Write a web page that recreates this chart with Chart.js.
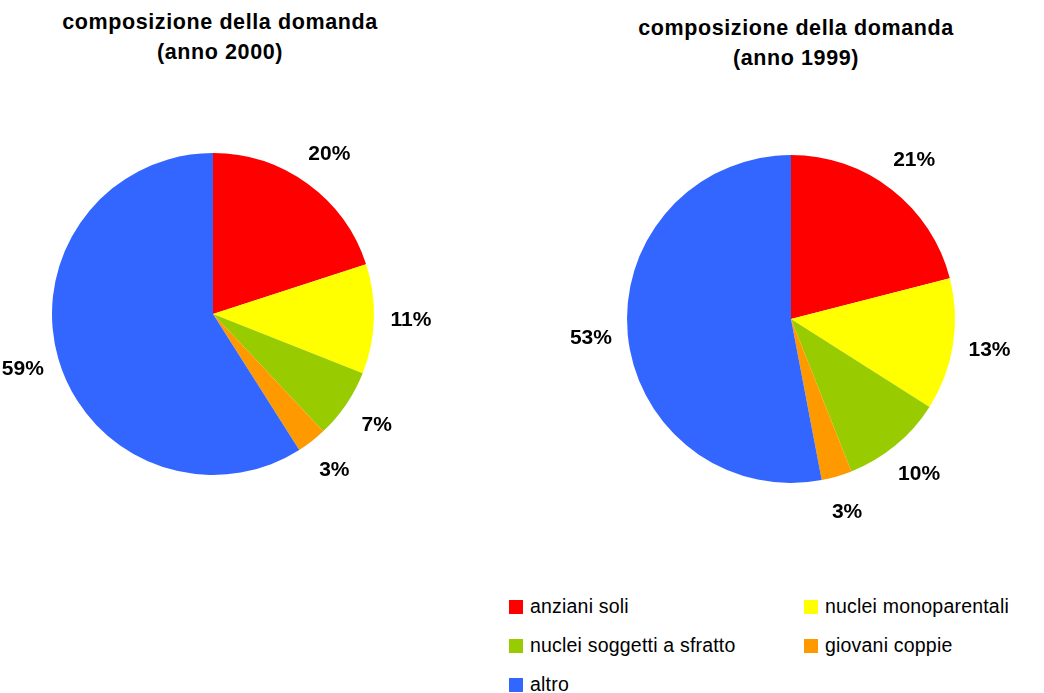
<!DOCTYPE html>
<html>
<head>
<meta charset="utf-8">
<script src="https://cdn.jsdelivr.net/npm/chart.js@4/dist/chart.umd.min.js"></script>
<style>
  body { margin: 0; background: #fff; width: 1044px; height: 693px; overflow: hidden; position: relative; font-family: "Liberation Sans", Arial, sans-serif; }
  .title { position: absolute; width: 400px; text-align: center; font-weight: bold; font-size: 21.5px; line-height: 30px; color: #000; letter-spacing: 0.6px; }
  .box { position: absolute; }
  #legend { position: absolute; left: 509px; top: 595px; width: 540px; font-size: 19.5px; color: #000; letter-spacing: 0.2px; }
  .item { position: absolute; white-space: nowrap; }
  .sw { display: inline-block; width: 14px; height: 14px; margin-right: 7px; vertical-align: -1px; }
</style>
</head>
<body>
<div class="title" style="left:20px; top:7px;">composizione della domanda<br>(anno 2000)</div>
<div class="title" style="left:596px; top:13px;">composizione della domanda<br>(anno 1999)</div>
<div class="box" style="left:0px; top:100px; width:440px; height:428px;"><canvas id="pie2000"></canvas></div>
<div class="box" style="left:571px; top:99px; width:440px; height:440px;"><canvas id="pie1999"></canvas></div>
<div id="legend"></div>
<script>
const categories = ["anziani soli", "nuclei monoparentali", "nuclei soggetti a sfratto", "giovani coppie", "altro"];
const values2000 = [20, 11, 7, 3, 59];
const values1999 = [21, 13, 10, 3, 53];
const colors = ["#FF0000", "#FFFF00", "#99CC00", "#FF9900", "#3366FF"];

// draws the percentage next to each slice, outside the pie
const outsideLabels = {
  id: "outsideLabels",
  afterDatasetsDraw(chart) {
    const ctx = chart.ctx;
    const meta = chart.getDatasetMeta(0);
    const data = chart.data.datasets[0].data;
    const total = data.reduce((a, b) => a + b, 0);
    ctx.save();
    ctx.font = "bold 21px 'Liberation Sans', Arial, sans-serif";
    ctx.fillStyle = "#000";
    ctx.textAlign = "center";
    ctx.textBaseline = "middle";
    meta.data.forEach((arc, i) => {
      const mid = (arc.startAngle + arc.endAngle) / 2;
      const r = arc.outerRadius + 37;
      const x = arc.x + Math.cos(mid) * r;
      const y = arc.y + Math.sin(mid) * r;
      ctx.fillText(Math.round(data[i] / total * 100) + "%", x, y);
    });
    ctx.restore();
  }
};

function makePie(id, values, pad) {
  return new Chart(document.getElementById(id), {
    type: "pie",
    data: {
      labels: categories,
      datasets: [{
        data: values,
        backgroundColor: colors,
        borderWidth: 0,
      }],
    },
    options: {
      responsive: true,
      maintainAspectRatio: false,
      animation: false,
      layout: { padding: pad },
      plugins: {
        legend: { display: false },
        tooltip: { enabled: false },
      },
    },
    plugins: [outsideLabels],
  });
}

makePie("pie2000", values2000, { left: 52, right: 66, top: 53, bottom: 53 });
makePie("pie1999", values1999, { left: 56, right: 56, top: 56, bottom: 56 });

// legend: two columns
const legend = document.getElementById("legend");
categories.forEach((name, i) => {
  const el = document.createElement("div");
  el.className = "item";
  el.style.left = (i % 2) * 295 + "px";
  el.style.top = Math.floor(i / 2) * 39 + "px";
  el.innerHTML = '<span class="sw" style="background:' + colors[i] + '"></span>' + name;
  legend.appendChild(el);
});
</script>
</body>
</html>
